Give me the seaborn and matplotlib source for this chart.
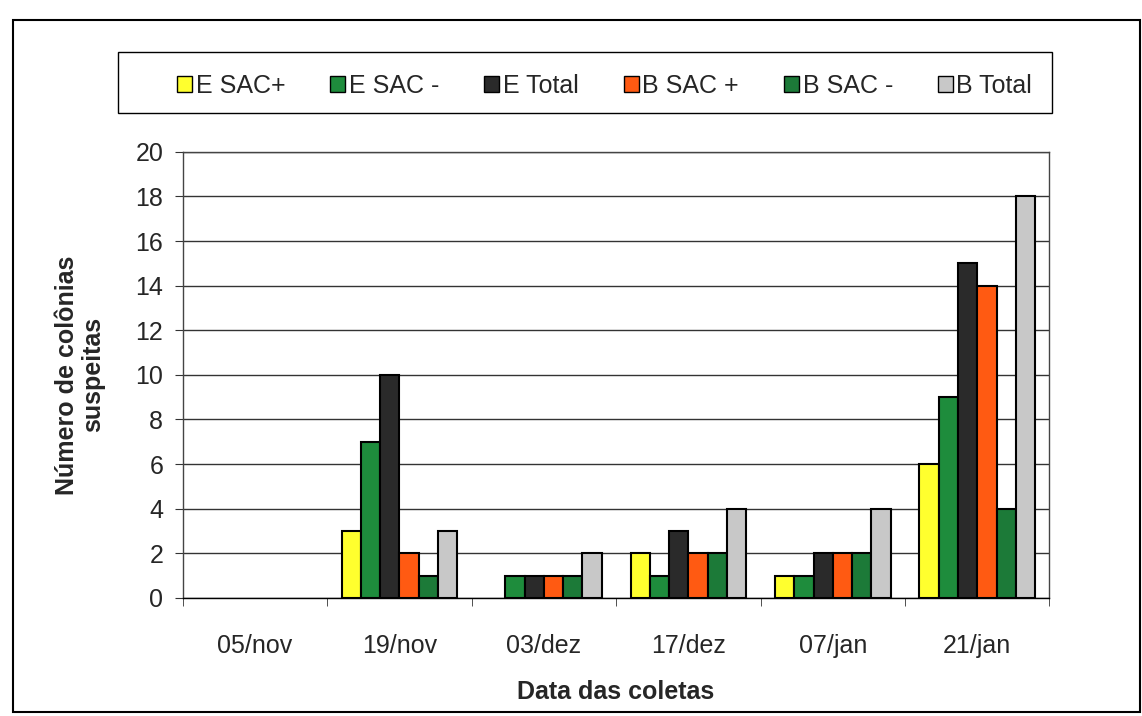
import seaborn as sns
import matplotlib.pyplot as plt
import matplotlib.patches as mpatches
import pandas as pd

# dados
datas = ['05/nov', '19/nov', '03/dez', '17/dez', '07/jan', '21/jan']
series = ['E SAC+', 'E SAC -', 'E Total', 'B SAC +', 'B SAC -', 'B Total']
e_sac_pos = [0, 3, 0, 2, 1, 6]
e_sac_neg = [0, 7, 1, 1, 1, 9]
e_total = [0, 10, 1, 3, 2, 15]
b_sac_pos = [0, 2, 1, 2, 2, 14]
b_sac_neg = [0, 1, 1, 2, 2, 4]
b_total = [0, 3, 2, 4, 4, 18]
cores = ['#FFFF2E', '#1E8C3C', '#2A2A2A', '#FF5A12', '#1C7A38', '#C8C8C8']

valores = [e_sac_pos, e_sac_neg, e_total, b_sac_pos, b_sac_neg, b_total]
rows = []
for s, vals in zip(series, valores):
    for d, v in zip(datas, vals):
        rows.append({'Data': d, 'Serie': s, 'Valor': v})
df = pd.DataFrame(rows)

sns.set_style('white')
plt.rcParams['font.family'] = ['Liberation Sans', 'DejaVu Sans']

fig = plt.figure(figsize=(11.42, 7.16), dpi=100)
ax = fig.add_axes([0.160, 0.165, 0.759, 0.623])

sns.barplot(data=df, x='Data', y='Valor', hue='Serie', hue_order=series,
            order=datas, palette=cores, width=0.8, edgecolor='black',
            linewidth=1.5, saturation=1, ax=ax, legend=False)

# barras de altura zero nao aparecem no original
for p in ax.patches:
    if p.get_height() == 0:
        p.set_visible(False)

ax.set_ylim(0, 20)
ax.set_xlim(-0.5, 5.5)
ax.set_yticks(range(0, 21, 2))
ax.yaxis.grid(True, color='#333333', linewidth=1)
ax.set_axisbelow(True)
for sp in ax.spines.values():
    sp.set_color('#444444')
    sp.set_linewidth(1)
ax.spines['bottom'].set_color('black')
ax.tick_params(axis='y', labelsize=18, length=6, pad=8, direction='out', left=True, color='#333333')
ax.tick_params(axis='x', labelsize=18, length=0, pad=26)
ax.set_xticks([i + 0.5 for i in range(-1, 6)], minor=True)
ax.tick_params(axis='x', which='minor', length=6, bottom=True, color='#333333')

ax.set_xlabel('Data das coletas', fontsize=18, fontweight='bold', labelpad=16)
ax.set_ylabel('Número de colônias\nsuspeitas', fontsize=18, fontweight='bold', labelpad=22,
              linespacing=1.1)

# caixa da legenda desenhada a parte
fig.patches.append(mpatches.Rectangle((0.103, 0.842), 0.818, 0.085, transform=fig.transFigure,
                                      fill=False, edgecolor='black', linewidth=1))
handles = [mpatches.Patch(facecolor=c, edgecolor='black', linewidth=1, label=s)
           for c, s in zip(cores, series)]
leg = fig.legend(handles=handles, loc='lower left', ncol=6, mode='expand',
                 bbox_to_anchor=(0.142, 0.842, 0.775, 0.085), fontsize=18,
                 frameon=False, handlelength=0.6, handleheight=0.6, handletextpad=0.15,
                 borderaxespad=0, borderpad=0.6)

fig.patches.append(mpatches.Rectangle((0.011, 0.006), 0.987, 0.966, transform=fig.transFigure,
                                      fill=False, edgecolor='black', linewidth=1.5))

fig.savefig('out.png', dpi=100)
plt.close()
